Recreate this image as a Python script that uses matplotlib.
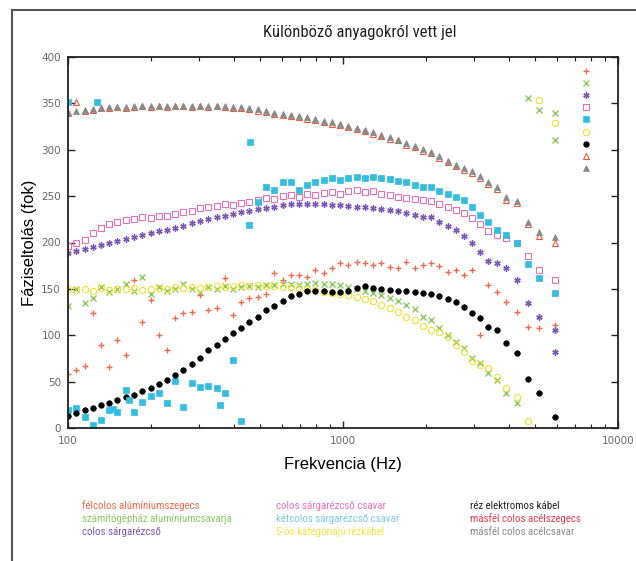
import matplotlib
matplotlib.use("Agg")
import matplotlib.pyplot as plt
from matplotlib.lines import Line2D

# Frekvencia pontok (Hz) - közös rács minden mérési sorozathoz
freq = [100, 107, 115, 123, 132, 141, 151, 162, 174, 186,
        200, 214, 229, 245, 263, 282, 302, 324, 347, 372,
        398, 427, 457, 490, 525, 562, 603, 646, 692, 741,
        794, 851, 912, 977, 1047, 1122, 1202, 1288, 1380, 1479,
        1585, 1698, 1820, 1950, 2089, 2239, 2399, 2570, 2754, 2951,
        3150, 3370, 3630, 3920, 4290, 4710, 5160, 5900]

# fáziseltolás (fok) anyagonként
felcolos_szegecs = [58, 62, 67, 124, 89, 66, 95, 79, 160, 114,
                    138, 100, 84, 119, 124, 125, 143, 127, 129, 162,
                    122, 136, 140, 141, 145, 167, 160, 165, 165, 163,
                    170, 167, 172, 178, 176, 179, 178, 176, 178, 174,
                    172, 179, 172, 176, 178, 175, 168, 170, 165, 170,
                    100, 154, 147, 136, 125, 109, 108, 111]
gephaz_csavar = [132, 150, 135, 140, 152, 147, 150, 155, 148, 163,
                 145, 152, 148, 150, 155, 150, 147, 152, 150, 153,
                 150, 152, 153, 152, 154, 154, 155, 155, 154, 155,
                 156, 155, 155, 154, 152, 150, 148, 146, 143, 140,
                 137, 133, 128, 120, 116, 108, 100, 93, 86, 76,
                 70, 59, 52, 38, 27, 356, 343, 340]
colos_rezcso = [189, 191, 193, 195, 197, 199, 202, 204, 206, 208,
                210, 212, 214, 216, 218, 221, 223, 225, 227, 229,
                231, 233, 234, 236, 237, 238, 240, 241, 242, 242,
                241, 241, 240, 240, 239, 238, 238, 237, 236, 235,
                234, 232, 230, 228, 227, 222, 218, 213, 207, 200,
                190, 180, 178, 173, 160, 135, 120, 106]
colos_csavar = [196, 199, 203, 210, 216, 220, 222, 224, 225, 227,
                226, 229, 229, 231, 233, 234, 237, 238, 239, 241,
                240, 243, 244, 246, 248, 247, 250, 251, 249, 252,
                251, 253, 254, 252, 255, 257, 254, 255, 252, 251,
                249, 248, 247, 246, 245, 242, 238, 235, 232, 226,
                220, 212, 208, 205, 200, 185, 170, 160]
ketcolos_csavar = [19, 22, 12, 3, 9, 19, 17, 41, 17, 28,
                   34, 38, 27, 51, 23, 48, 44, 45, 43, 38,
                   73, 8, 219, 244, 260, 257, 265, 265, 257, 262,
                   265, 267, 270, 267, 270, 271, 270, 271, 270, 268,
                   266, 265, 262, 260, 260, 255, 252, 249, 246, 238,
                   230, 222, 213, 208, 199, 177, 162, 146]
utp_kabel = [150, 149, 150, 148, 151, 149, 150, 150, 151, 149,
             150, 151, 150, 152, 151, 152, 151, 152, 153, 152,
             153, 154, 153, 154, 153, 153, 152, 152, 151, 150,
             149, 147, 146, 145, 143, 141, 139, 137, 133, 129,
             125, 120, 116, 110, 106, 103, 98, 90, 82, 72,
             68, 65, 55, 43, 33, 8, 354, 329]
rez_kabel = [13, 16, 19, 22, 25, 27, 30, 33, 36, 40,
             43, 47, 52, 57, 62, 69, 76, 84, 90, 96,
             102, 108, 114, 120, 127, 132, 137, 142, 145, 148,
             148, 148, 147, 147, 148, 151, 153, 151, 150, 149,
             148, 148, 147, 146, 145, 142, 139, 136, 130, 124,
             119, 109, 106, 92, 81, 53, 38, 12]
acel_szegecs = [340, 352, 342, 343, 345, 345, 346, 345, 346, 347,
                346, 347, 346, 347, 347, 346, 347, 346, 347, 346,
                345, 345, 344, 342, 341, 339, 337, 336, 335, 333,
                332, 330, 328, 327, 325, 322, 320, 317, 315, 312,
                310, 305, 303, 299, 296, 291, 287, 282, 278, 275,
                270, 263, 258, 246, 243, 220, 207, 200]
acel_csavar = [341, 342, 343, 344, 345, 346, 346, 346, 347, 347,
               347, 347, 347, 347, 347, 347, 347, 347, 347, 347,
               346, 346, 345, 344, 342, 340, 339, 337, 336, 335,
               333, 331, 330, 328, 326, 323, 321, 319, 316, 314,
               311, 307, 304, 301, 298, 293, 288, 284, 280, 277,
               272, 265, 260, 249, 245, 222, 211, 206]

# kilógó pontok
ketcolos_extra_f = [100, 127, 459, 357, 146, 167]
ketcolos_extra_v = [352, 351, 308, 25, 20, 30]
colos_rezcso_extra_f = [5900]
colos_rezcso_extra_v = [82]
gephaz_extra_f = [5900]
gephaz_extra_v = [310]

nevek = ["félcolos alúmíniumszegecs", "számítógépház alumíniumcsavarja",
         "colos sárgarézcső", "colos sárgarézcső csavar",
         "kétcolos sárgarézcső csavar", "5-ös kategóriájú rézkábel",
         "réz elektromos kábel", "másfél colos acélszegecs",
         "másfél colos acélcsavar"]
szoveg_szinek = ["#f26a4a", "#8cc860", "#7a56b8", "#e672b4", "#7ccbe2",
                 "#f2e440", "#222222", "#f03a4e", "#8a8a8a"]

narrow = ["Roboto Condensed", "Liberation Sans Narrow", "Open Sans Condensed",
          "Roboto", "DejaVu Sans"]

fig = plt.figure(figsize=(6.36, 5.61), dpi=100)
ax = fig.add_axes([68/636, 1 - 428/561, 550/636, 371/561])

stilus = [
    dict(marker="+", color="#f26a4a", ms=5, mew=1.0),
    dict(marker="x", color="#8cc860", ms=4.5, mew=1.0),
    dict(marker=(6, 2, 0), color="#7a56b8", ms=4.5, mew=1.0),
    dict(marker="s", color="#e672b4", ms=4, mew=0.8, mfc="none"),
    dict(marker="s", color="#33bde0", ms=4, mew=0.5),
    dict(marker="o", color="#f0e030", ms=4.5, mew=0.8, mfc="none"),
    dict(marker="o", color="black", ms=4, mew=0.5),
    dict(marker="^", color="#f0583a", ms=4.5, mew=0.8, mfc="none"),
    dict(marker="^", color="#8a8a8a", ms=4, mew=0.5),
]
sorok = [felcolos_szegecs, gephaz_csavar, colos_rezcso, colos_csavar,
         ketcolos_csavar, utp_kabel, rez_kabel, acel_szegecs, acel_csavar]

handles = []
for vals, st in zip(sorok, stilus):
    h, = ax.plot(freq, vals, linestyle="none", **st)
    handles.append(h)

ax.plot(ketcolos_extra_f, ketcolos_extra_v, linestyle="none", **stilus[4])
ax.plot(colos_rezcso_extra_f, colos_rezcso_extra_v, linestyle="none", **stilus[2])
ax.plot(gephaz_extra_f, gephaz_extra_v, linestyle="none", **stilus[1])

ax.set_xscale("log")
ax.set_xlim(100, 10000)
ax.set_ylim(0, 400)
ax.set_xticks([100, 1000, 10000])
ax.set_xticklabels(["100", "1000", "10000"])
ax.set_yticks(range(0, 401, 50))
ax.tick_params(which="both", direction="in", top=True, right=True,
               labelsize=7.5, labelcolor="#666666", colors="#222222")
ax.tick_params(which="major", length=5, width=1)
ax.tick_params(which="minor", length=3, width=0.8)
ax.tick_params(axis="x", pad=6)
ax.tick_params(axis="y", pad=5)
for s in ax.spines.values():
    s.set_linewidth(1.3)
    s.set_color("#222222")

ax.set_xlabel("Frekvencia (Hz)", fontsize=12, family=["Liberation Sans", "DejaVu Sans"], labelpad=8)
ax.set_ylabel("Fáziseltolás (fok)", fontsize=12, family=["Liberation Sans", "DejaVu Sans"], labelpad=3)

# gnuplot-szerű kulcs: csak a jelölők
ax.legend(handles, [" "] * 9, loc="upper left", bbox_to_anchor=(0.933, 0.975),
          frameon=False, fontsize=7, handlelength=1.0, handletextpad=0,
          borderpad=0, borderaxespad=0, labelspacing=0.22)

fig.text(360/636, 1 - 32/561, "Különböző anyagokról vett jel", ha="center", va="center",
         fontsize=12, family=narrow, color="#222222")

oszlop_x = [82, 276, 470]
sor_y = [506, 519, 532]
for i, (nev, c) in enumerate(zip(nevek, szoveg_szinek)):
    fig.text(oszlop_x[i // 3] / 636, 1 - sor_y[i % 3] / 561, nev, ha="left", va="center",
             fontsize=7.8, family=narrow, color=c)

# keret
fig.add_artist(Line2D([12/636, 1], [1 - 10/561, 1 - 10/561], transform=fig.transFigure,
                      color="#555555", lw=1.5))
fig.add_artist(Line2D([12/636, 12/636], [1 - 10/561, 0], transform=fig.transFigure,
                      color="#555555", lw=1.5))

fig.savefig("out.png", dpi=100)
